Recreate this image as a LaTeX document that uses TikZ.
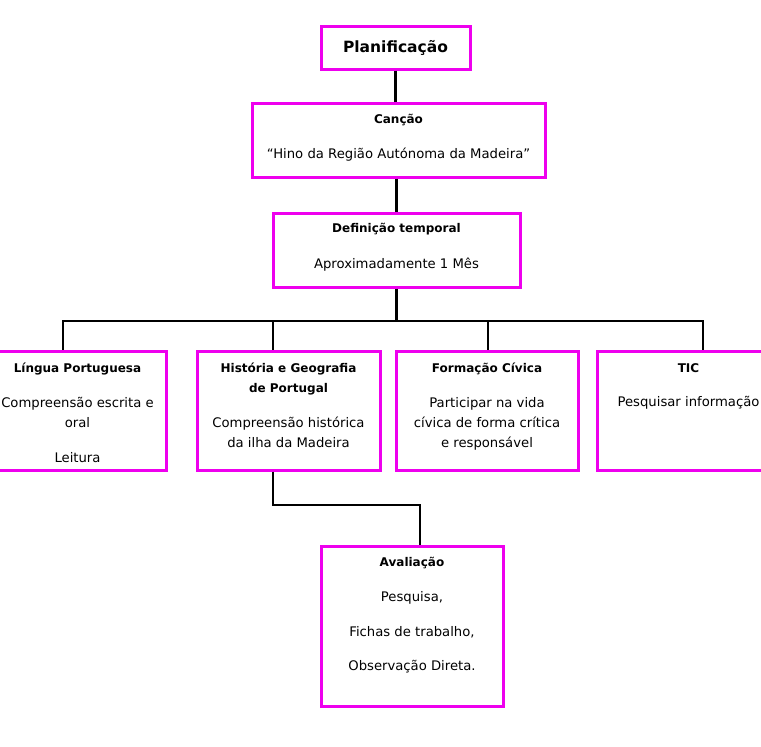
\documentclass[tikz,border=0pt]{standalone}
\usepackage{fontspec}
\setmainfont{DejaVu Sans}
\definecolor{boxpink}{RGB}{238,0,238}
\usetikzlibrary{positioning, calc}
\tikzstyle{caixa}=[draw=boxpink, line width=3pt, inner sep=0pt]
\tikzstyle{txt}=[align=center, inner sep=0pt, anchor=north, font=\fontsize{13.2}{19.8}\selectfont]
\tikzstyle{liga}=[draw=black, line width=2.8pt]
\newcommand{\tit}[1]{{\bfseries\fontsize{12}{19.8}\selectfont #1}}

\begin{document}
\begin{tikzpicture}[x=1pt, y=-1pt]
    \useasboundingbox (0,0) rectangle (761,747);
    \clip (0,0) rectangle (761,747);
    % caixas
    \node[caixa, minimum width=149pt, minimum height=43pt, font=\bfseries\fontsize{15.5}{20}\selectfont] (plan) at (395.5,47.5) {Planificação};
    \node[caixa, minimum width=293pt, minimum height=74pt] (canc) at (398.5,140) {};
    \node[caixa, minimum width=247pt, minimum height=74pt] (temp) at (396.5,250) {};
    \node[caixa, minimum width=183pt, minimum height=119pt] (lp) at (74.5,410.5) {};
    \node[caixa, minimum width=183pt, minimum height=119pt] (hg) at (288.5,410.5) {};
    \node[caixa, minimum width=182pt, minimum height=119pt] (fc) at (487,410.5) {};
    \node[caixa, minimum width=183pt, minimum height=119pt] (tic) at (688.5,410.5) {};
    \node[caixa, minimum width=182pt, minimum height=160pt] (aval) at (412,626) {};
    % ligacoes
    \coordinate (bus) at (396.5,321);
    \coordinate (b1) at (63,321);
    \coordinate (b2) at (273,321);
    \coordinate (b3) at (488,321);
    \coordinate (b4) at (703,321);
    \coordinate (h1) at (273,505);
    \coordinate (h2) at (420,505);
    \draw[liga] (plan.south) -- (plan.south |- canc.north);
    \draw[liga] (canc.south -| temp.north) -- (temp.north);
    \draw[liga] (temp.south) -- (bus);
    \draw[liga, line cap=rect] (b1) -- (b4);
    \draw[liga] (b1) -- (b1 |- lp.north);
    \draw[liga] (b2) -- (b2 |- hg.north);
    \draw[liga] (b3) -- (b3 |- fc.north);
    \draw[liga] (b4) -- (b4 |- tic.north);
    \draw[liga] (h1 |- hg.south) -- (h1) -- (h2) -- (h2 |- aval.north);
    % textos
    \node[txt] (cancT) at (398.5,114) {\tit{Canção}\\[15pt]“Hino da Região Autónoma da Madeira”};
    \node[txt] (tempT) at (396.5,223) {\tit{Definição temporal}\\[16pt]Aproximadamente 1 Mês};
    \node[txt] (lpT) at (77.5,363) {\tit{Língua Portuguesa}\\[15pt]Compreensão escrita e\\oral\\[15pt]Leitura};
    \node[txt] (hgT) at (288.5,363) {\tit{História e Geografia}\\\tit{de Portugal}\\[15pt]Compreensão histórica\\da ilha da Madeira};
    \node[txt] (fcT) at (487,363) {\tit{Formação Cívica}\\[15pt]Participar na vida\\cívica de forma crítica\\e responsável};
    \node[txt] (ticT) at (688.5,363) {\tit{TIC}\\[15pt]Pesquisar informação};
    \node[txt] (avalT) at (412,557) {\tit{Avaliação}\\[15pt]Pesquisa,\\[15pt]Fichas de trabalho,\\[15pt]Observação Direta.};
\end{tikzpicture}
\end{document}
